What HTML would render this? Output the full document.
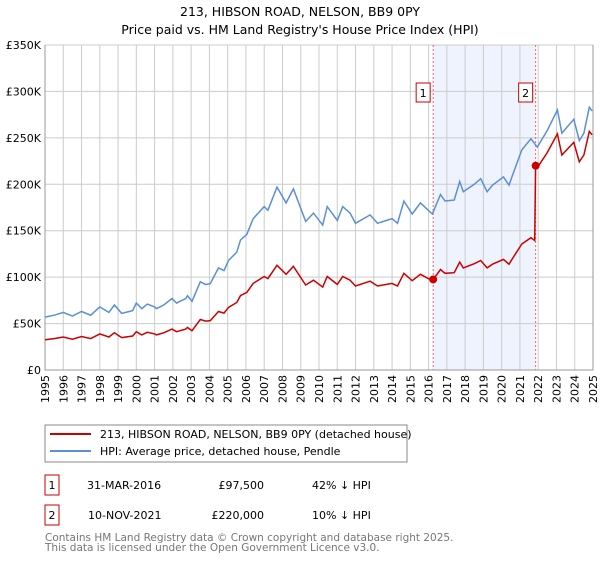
<!DOCTYPE html>
<html><head><meta charset="utf-8"><style>
body{margin:0;background:#fff;font-family:"DejaVu Sans","Liberation Sans",sans-serif;}
svg text{font-family:"DejaVu Sans","Liberation Sans",sans-serif;}
</style></head><body>
<svg id="c" width="600" height="560" viewBox="0 0 600 560">
<text x="300" y="16" text-anchor="middle" font-size="12.5">213, HIBSON ROAD, NELSON, BB9 0PY</text>
<text x="300" y="34" text-anchor="middle" font-size="12.5">Price paid vs. HM Land Registry's House Price Index (HPI)</text>
<g id="plot"></g>
<rect x="45" y="425" width="362" height="37" fill="#fff" stroke="#888"/>
<line x1="50" y1="434" x2="91" y2="434" stroke="#cc0000" stroke-width="2"/>
<text x="100" y="438" font-size="11">213, HIBSON ROAD, NELSON, BB9 0PY (detached house)</text>
<line x1="50" y1="451" x2="91" y2="451" stroke="#5b8fd6" stroke-width="2"/>
<text x="100" y="455" font-size="11">HPI: Average price, detached house, Pendle</text>
<g font-size="11">
<rect x="45" y="475" width="14" height="20" fill="#fff" stroke="#cc0000"/>
<text x="52" y="489" text-anchor="middle">1</text>
<text x="87" y="489">31-MAR-2016</text><text x="264" y="489" text-anchor="end">£97,500</text><text x="312" y="489">42% ↓ HPI</text>
<rect x="45" y="505" width="14" height="20" fill="#fff" stroke="#cc0000"/>
<text x="52" y="519" text-anchor="middle">2</text>
<text x="88" y="519">10-NOV-2021</text><text x="264" y="519" text-anchor="end">£220,000</text><text x="312" y="519">10% ↓ HPI</text>
</g>
<text x="45" y="541" font-size="10.5" fill="#777">Contains HM Land Registry data © Crown copyright and database right 2025.</text>
<text x="45" y="551" font-size="10.5" fill="#777">This data is licensed under the Open Government Licence v3.0.</text>
</svg>
<script>
const hpiYears=[1995,1995.5,1996,1996.5,1997,1997.5,1998,1998.5,1998.8,1999.2,1999.8,2000,2000.3,2000.6,2001,2001.1,2001.5,2001.95,2002.2,2002.7,2002.8,2003.05,2003.5,2003.8,2004.05,2004.5,2004.8,2005.05,2005.5,2005.7,2006.05,2006.4,2007,2007.2,2007.7,2008.2,2008.6,2009,2009.27,2009.7,2010.2,2010.45,2011,2011.3,2011.7,2012,2012.8,2013.2,2014,2014.3,2014.65,2015.1,2015.55,2016.2,2016.65,2016.9,2017.4,2017.7,2017.9,2018.5,2018.85,2019.2,2019.5,2020.1,2020.4,2020.6,2021.1,2021.6,2021.95,2022.5,2023.05,2023.3,2023.6,2023.95,2024.25,2024.5,2024.8,2024.95];
const hpiValues=[57,59,62,58,63,59,68,62,70,61,64,72,66,71,68,66,70,77,72,77,80,74,95,92,93,110,107,118,127,140,146,163,176,172,197,180,195,174,160,169,156,176,161,176,169,158,167,158,163,158,182,168,180,168,189,182,183,203,192,200,206,192,199,208,199,210,237,249,240,258,280,255,262,270,247,255,283,279];
const saleYears=[2016.25,2021.86];
const salePrices=[97.5,220];
const yTicks=[0,50,100,150,200,250,300,350];
const yTickLabels=["£0","£50K","£100K","£150K","£200K","£250K","£300K","£350K"];
const xTicks=[1995,1996,1997,1998,1999,2000,2001,2002,2003,2004,2005,2006,2007,2008,2009,2010,2011,2012,2013,2014,2015,2016,2017,2018,2019,2020,2021,2022,2023,2024,2025];
const X0=45,X1=593,Y0=370,Y1=45;
const xs=y=>X0+(y-1995)/30*(X1-X0);
const ys=v=>Y0-v/350*(Y0-Y1);
const NS="http://www.w3.org/2000/svg";
const g=document.getElementById('plot');
function mk(t,a,p){const e=document.createElementNS(NS,t);for(const k in a)e.setAttribute(k,a[k]);(p||g).appendChild(e);return e;}
function hpiAt(y){for(let i=0;i<hpiYears.length-1;i++){if(y<=hpiYears[i+1]){const t=(y-hpiYears[i])/(hpiYears[i+1]-hpiYears[i]);return hpiValues[i]+t*(hpiValues[i+1]-hpiValues[i]);}}return hpiValues[hpiValues.length-1];}
let sh=mk('rect',{x:xs(saleYears[0]),y:Y1,width:xs(saleYears[1])-xs(saleYears[0]),height:Y0-Y1,fill:'#eef3fd'});


yTicks.forEach((v,i)=>{
 let l=mk('line',{x1:X0,x2:X1,y1:ys(v),y2:ys(v),stroke:'#ccc','stroke-width':1});
 
 
 let t=mk('text',{x:X0-4,y:ys(v)+4,'text-anchor':'end','font-size':11});
 
 
 t.textContent=yTickLabels[i];
});
xTicks.forEach(y=>{
 let l=mk('line',{x1:xs(y),x2:xs(y),y1:Y1,y2:Y0,stroke:'#ccc','stroke-width':1});
 
 
 let t=mk('text',{x:0,y:0,'text-anchor':'end','font-size':11,transform:`translate(${xs(y)+4},${Y0+5}) rotate(-90)`});
 
 
 t.textContent=y;
});
let ax=mk('path',{d:`M${X0},${Y1}V${Y0}H${X1}V${Y1}`,fill:'none',stroke:'#999'});


saleYears.forEach((y,i)=>{
 let l=mk('line',{x1:xs(y),x2:xs(y),y1:Y1,y2:Y0,stroke:'#f06060','stroke-dasharray':'2,2'});
 
 
});
// HPI line
let d=hpiYears.map((y,i)=>(i?'L':'M')+xs(y).toFixed(1)+','+ys(hpiValues[i]).toFixed(1)).join('');
let hp=mk('path',{d,fill:'none',stroke:'#5b8fd6','stroke-width':1.5});


// price paid line (indexed from sales)
const r1=salePrices[0]/hpiAt(saleYears[0]),r2=salePrices[1]/hpiAt(saleYears[1]);
let pts=[];
hpiYears.forEach((y,i)=>{if(y<saleYears[1])pts.push([y,hpiValues[i]*r1]);});
pts.push([saleYears[1]-0.05,hpiAt(saleYears[1]-0.05)*r1]);
pts.push([saleYears[1],salePrices[1]]);
hpiYears.forEach((y,i)=>{if(y>saleYears[1])pts.push([y,hpiValues[i]*r2]);});
let d2=pts.map((p,i)=>(i?'L':'M')+xs(p[0]).toFixed(1)+','+ys(p[1]).toFixed(1)).join('');
let rp=mk('path',{d:d2,fill:'none',stroke:'#cc0000','stroke-width':1.5});


saleYears.forEach((y,i)=>{
 let c=mk('circle',{cx:xs(y),cy:ys(salePrices[i]),r:4,fill:'#cc0000'});
 
 
 let b=mk('rect',{x:xs(y)-17,y:83,width:14,height:19,fill:'#fff',stroke:'#cc0000'});
 
 
 let t=mk('text',{x:xs(y)-10,y:97,'text-anchor':'middle','font-size':11});
 
 
 t.textContent=i+1;
});
</script>
</body></html>
